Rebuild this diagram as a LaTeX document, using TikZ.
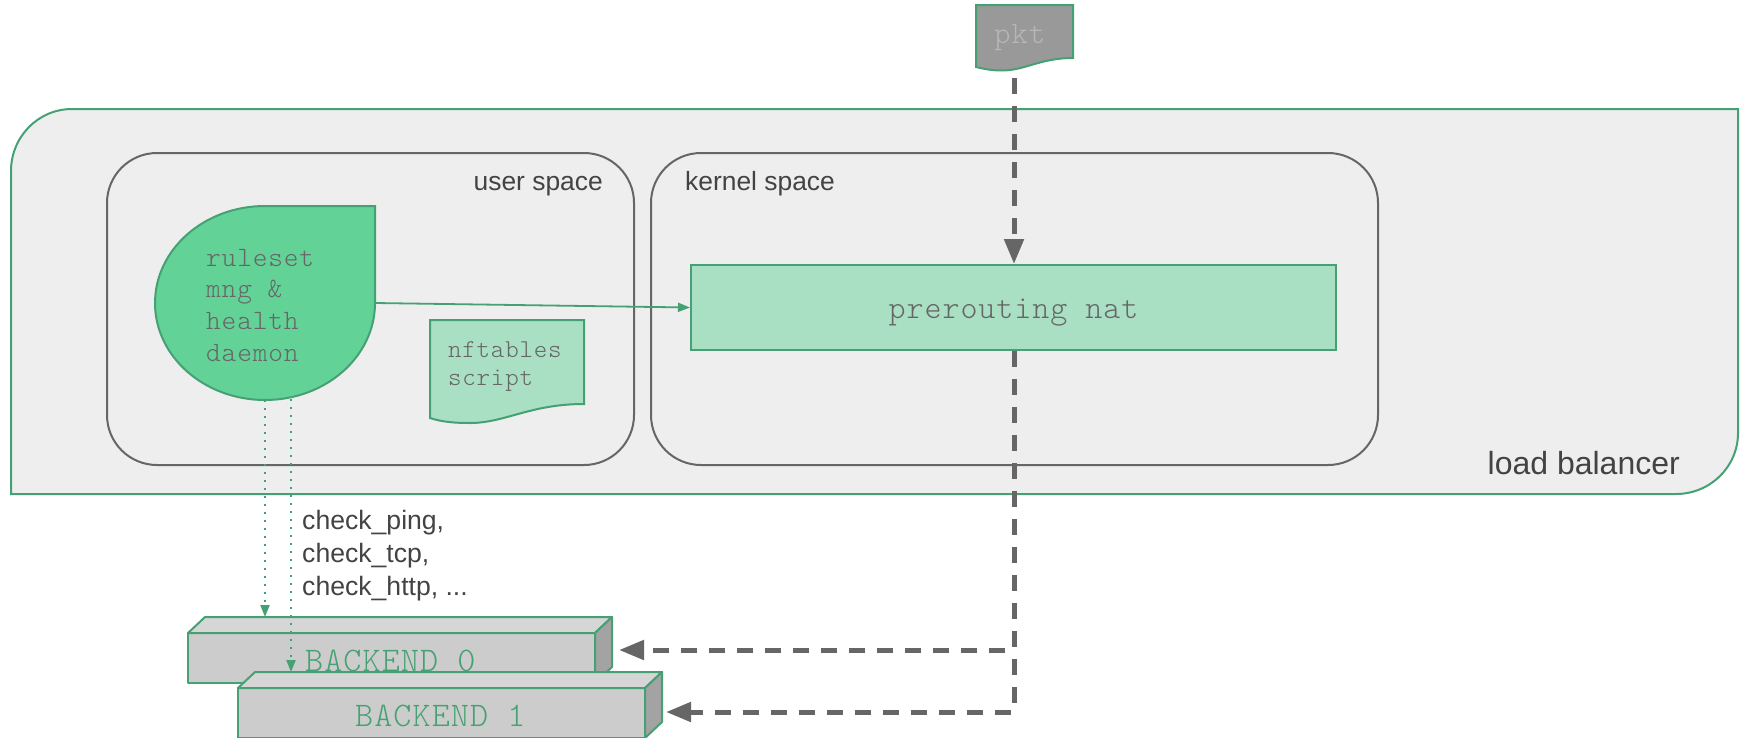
\documentclass[tikz,border=0pt]{standalone}
\usepackage{fontspec}
\setmainfont{Liberation Sans}
\newfontfamily\cour[LetterSpace=3]{Latin Modern Mono Light}
\usetikzlibrary{arrows.meta}
\definecolor{gstroke}{HTML}{45A173}
\definecolor{panel}{HTML}{EEEEEE}
\definecolor{drop}{HTML}{63D297}
\definecolor{lgreen}{HTML}{A9DFC2}
\definecolor{face}{HTML}{CCCCCC}
\definecolor{topface}{HTML}{D6D6D6}
\definecolor{sideface}{HTML}{A3A3A3}
\definecolor{pktfill}{HTML}{999999}
\definecolor{pkttext}{HTML}{B7B7B7}
\definecolor{darkline}{HTML}{666666}
\definecolor{sanstext}{HTML}{434343}
\definecolor{monotext}{HTML}{666666}
\definecolor{flow}{HTML}{666666}
\tikzset{
  outline/.style={draw=gstroke,line width=2pt},
  space/.style={draw=darkline,line width=2pt,fill=panel,rounded corners=50pt},
  label/.style={text=sanstext,inner sep=0pt},
  mono/.style={text=monotext,inner sep=0pt,font=\cour},
  flowline/.style={draw=flow,line width=5pt,dash pattern=on 16pt off 12pt,-{Triangle[length=25pt,width=19pt]}},
  thin flow/.style={draw=gstroke,line width=1.8pt,-{Triangle[length=12pt,width=9pt]}},
  probe/.style={thin flow,line width=2.2pt,dash pattern=on 2.2pt off 5.8pt},
  front/.style={outline,fill=face,line join=round},
  top/.style={outline,fill=topface,line join=round},
  side/.style={outline,fill=sideface,line join=round},
}
\begin{document}
\begin{tikzpicture}[x=1pt,y=-1pt]
\useasboundingbox (0,0) rectangle (1740,737);
% load balancer
\draw[outline,fill=panel] (72,109) -- (1738,109) -- (1738,433) .. controls (1738,467) and (1710,494) .. (1676,494) -- (11,494) -- (11,171) .. controls (11,137) and (38,109) .. (72,109) -- cycle;
\node[label,font=\fontsize{32}{38}\selectfont,anchor=base east] (lbl) at (1680,474) {load balancer};
% spaces
\draw[space] (107,153) rectangle (634,465);
\draw[space] (651,153) rectangle (1378,465);
\node[label,font=\fontsize{26.4}{32}\selectfont,anchor=base east] (usr) at (603,190) {user space};
\node[label,font=\fontsize{26.4}{32}\selectfont,anchor=base west] (krn) at (685,190) {kernel space};
% daemon
\draw[outline,fill=drop] (375,206) -- (375,303) .. controls (375,356.6) and (325.75,400) .. (265,400) .. controls (204.25,400) and (155,356.6) .. (155,303) .. controls (155,249.4) and (204.25,206) .. (265,206) -- cycle;
\coordinate (daemonR) at (375,303);
\coordinate (daemonA) at (265,400);
\coordinate (daemonB) at (291,399);
\node[mono,font=\cour\fontsize{28}{31.6}\selectfont,anchor=base west] (d1) at (206,266) {ruleset};
\node[mono,font=\cour\fontsize{28}{31.6}\selectfont,anchor=base west] (d2) at (206,297) {mng \&};
\node[mono,font=\cour\fontsize{28}{31.6}\selectfont,anchor=base west] (d3) at (206,329) {health};
\node[mono,font=\cour\fontsize{28}{31.6}\selectfont,anchor=base west] (d4) at (206,361) {daemon};
% script
\draw[outline,fill=lgreen] (430,320) -- (584,320) -- (584,404) .. controls (530,404) and (505,423) .. (470,423) .. controls (455,423) and (442,422) .. (430,418) -- cycle;
\node[mono,font=\cour\fontsize{25.7}{28}\selectfont,anchor=base west] (s1) at (448,357) {nftables};
\node[mono,font=\cour\fontsize{25.7}{28}\selectfont,anchor=base west] (s2) at (448,385) {script};
% prerouting
\node[outline,fill=lgreen,minimum width=645pt,minimum height=85pt,inner sep=0pt,text=monotext,font=\cour\fontsize{32.4}{36}\selectfont] (nat) at (1013.5,307.5) {\raisebox{-11pt}[0pt][0pt]{prerouting nat}};
% pkt
\draw[outline,fill=pktfill] (976,5) -- (1073,5) -- (1073,58) .. controls (1040,58) and (1025,70.5) .. (1002,70.5) .. controls (992,70.5) and (984,69) .. (976,67) -- cycle;
\node[inner sep=0pt,text=pkttext,font=\cour\fontsize{31.3}{34}\selectfont,anchor=base west] (pkt) at (994,43) {pkt};
\coordinate (pktout) at (1014,78);
\coordinate (natin) at (1014,264);
\coordinate (natout) at (1014,351);
\coordinate (fork0) at (1014,650);
\coordinate (fork1) at (1014,712);
\coordinate (b0in) at (619,650);
\coordinate (b1in) at (666,712);
\coordinate (b0top) at (265,617);
\coordinate (b0mid) at (291,672);
% backend 0
\draw[front] (188,633) rectangle (595,683);
\draw[top] (188,633) -- (205,617) -- (612,617) -- (595,633) -- cycle;
\draw[side] (595,633) -- (612,617) -- (612,667) -- (595,683) -- cycle;
\node[inner sep=0pt,text=gstroke,font=\cour\fontsize{34.5}{38}\selectfont,anchor=base west] (b0) at (305,671) {BACKEND 0};
% probes
\draw[thin flow] (daemonR) -- (nat.west);
\draw[probe] (daemonA) -- (b0top);
\draw[probe] (daemonB) -- (b0mid);
% backend 1
\draw[front] (238,688) rectangle (645,738);
\draw[top] (238,688) -- (255,672) -- (662,672) -- (645,688) -- cycle;
\draw[side] (645,688) -- (662,672) -- (662,722) -- (645,738) -- cycle;
\node[inner sep=0pt,text=gstroke,font=\cour\fontsize{34.5}{38}\selectfont,anchor=base west] (b1) at (355,726) {BACKEND 1};
% check labels
\node[label,font=\fontsize{26.6}{30}\selectfont,anchor=base west] (c1) at (302,529) {check\_ping,};
\node[label,font=\fontsize{26.6}{30}\selectfont,anchor=base west] (c2) at (302,562) {check\_tcp,};
\node[label,font=\fontsize{26.6}{30}\selectfont,anchor=base west] (c3) at (302,595) {check\_http, ...};
% packet flow
\draw[flowline] (pktout) -- (natin);
\draw[flowline] (natout) -- (fork0) -- (b0in);
\draw[flowline] (natout) -- (fork1) -- (b1in);
\end{tikzpicture}
\end{document}
